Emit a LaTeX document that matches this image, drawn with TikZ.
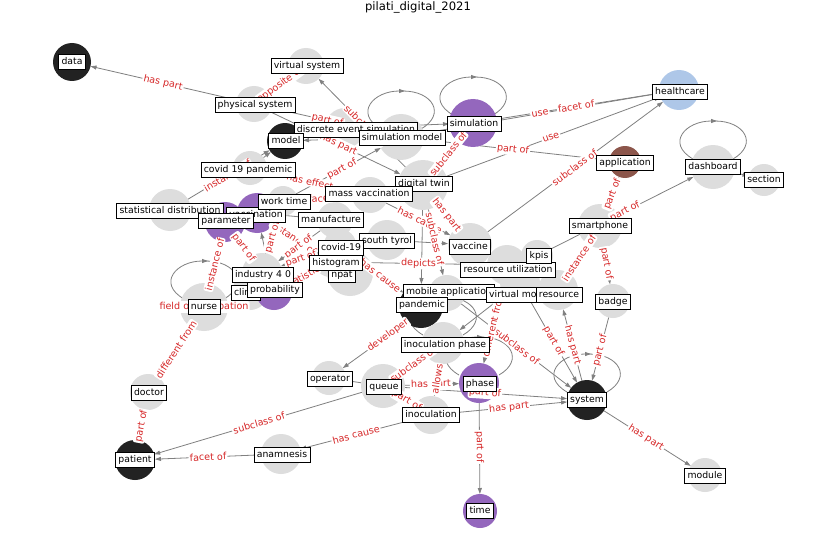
\documentclass[tikz,border=0pt]{standalone}
\usepackage{fontspec}
\setmainfont{DejaVu Sans}
\usetikzlibrary{arrows.meta,calc}
\pgfdeclarelayer{bg}
\pgfdeclarelayer{lines}
\pgfdeclarelayer{elabels}
\pgfdeclarelayer{nlabels}
\pgfsetlayers{bg,lines,main,elabels,nlabels}
\definecolor{ggray}{RGB}{221,221,221}
\definecolor{gblack}{RGB}{34,34,34}
\definecolor{gpurple}{RGB}{148,103,189}
\definecolor{gblue}{RGB}{174,199,232}
\definecolor{gbrown}{RGB}{140,86,75}
\definecolor{eline}{RGB}{128,128,128}
\definecolor{ered}{RGB}{214,39,40}
\tikzset{
  edgeline/.style={draw=eline, line width=0.8pt, -{Triangle[length=6pt,width=4pt]}},
  loopline/.style={draw=eline, line width=0.8pt},
  elab/.style={text=ered, fill=white, inner sep=1.2pt, rounded corners=2pt, font=\fontsize{9.6}{11}\selectfont},
  nlab/.style={draw=black, fill=white, line width=0.7pt, inner xsep=2.8pt, inner ysep=3pt,
     text height=7.3pt, text depth=2.2pt, font=\fontsize{9.3}{11}\selectfont},
  gcirc/.style={circle, inner sep=0pt, outer sep=0pt, draw=none}
}
\newcommand{\gcn}[5]{\node[gcirc, fill=#5, minimum size={2*#4pt}] (c#1) at (#2,-#3) {};}
\newcommand{\gln}[4]{\begin{pgfonlayer}{nlabels}\node[nlab] (l#1) at (#2,-#3) {#4};\end{pgfonlayer}}
\newcommand{\gedge}[3]{%
  \begin{pgfonlayer}{lines}\draw[edgeline] (c#1) -- (c#2);\end{pgfonlayer}%
  \begin{pgfonlayer}{elabels}\path (c#1.center) -- node[elab, sloped] {#3} (c#2.center);\end{pgfonlayer}}
\newcommand{\gedgen}[2]{\begin{pgfonlayer}{lines}\draw[edgeline] (c#1) -- (c#2);\end{pgfonlayer}}
\newcommand{\gloop}[1]{\begin{pgfonlayer}{lines}%
  \draw[loopline, -{Triangle[length=6pt,width=4pt]}] ($(c#1.center)+(-20,8)$) to[out=150,in=180,looseness=1.8] ($(c#1.center)+(4,46)$);
  \draw[loopline] ($(c#1.center)+(2,46)$) to[out=0,in=30,looseness=1.8] ($(c#1.center)+(20,8)$);
  \end{pgfonlayer}}
\begin{document}
\begin{tikzpicture}[x=1pt,y=1pt]
\begin{pgfonlayer}{bg}
\fill[white] (0,0) rectangle (837,-559);
\end{pgfonlayer}
\useasboundingbox (0,0) rectangle (837,-559);
\node[font=\fontsize{11.6}{13}\selectfont] (title) at (418,-7) {pilati\_digital\_2021};
% circles
\gcn{data}{72}{62}{19}{gblack}
\gcn{virtsys}{306}{66}{18}{ggray}
\gcn{physsys}{254}{104}{18}{ggray}
\gcn{health}{679}{90}{20}{gblue}
\gcn{model}{285}{141}{18}{gblack}
\gcn{des}{345}{128}{20}{ggray}
\gcn{simmodel}{401}{137}{23}{ggray}
\gcn{sim}{473}{123}{24}{gpurple}
\gcn{app}{625}{162}{16}{gbrown}
\gcn{dash}{713}{167}{22}{ggray}
\gcn{section}{764}{180}{16}{ggray}
\gcn{covpand}{250}{168}{17}{ggray}
\gcn{dtwin}{423}{185}{25}{ggray}
\gcn{massvac}{370}{195}{18}{ggray}
\gcn{statdist}{170}{210}{21}{ggray}
\gcn{worktime}{283}{201}{15}{ggray}
\gcn{vaccn}{257}{213}{20}{gpurple}
\gcn{param}{225}{222}{20}{gpurple}
\gcn{manuf}{335}{220}{18}{ggray}
\gcn{styrol}{387}{240}{20}{ggray}
\gcn{vaccine}{470}{245}{22}{ggray}
\gcn{kpis}{537}{256}{16}{ggray}
\gcn{phone}{600}{226}{22}{ggray}
\gcn{covid}{340}{245}{16}{ggray}
\gcn{npat}{350}{273}{23}{ggray}
\gcn{histo}{330}{262}{15}{ggray}
\gcn{ind}{262}{273}{20}{ggray}
\gcn{resutil}{507}{265}{20}{ggray}
\gcn{clinic}{250}{292}{18}{ggray}
\gcn{prob}{274}{292}{18}{gpurple}
\gcn{mobapp}{447}{293}{18}{ggray}
\gcn{virtmod}{520}{283}{20}{ggray}
\gcn{resource}{558}{290}{20}{ggray}
\gcn{badge}{613}{301}{17}{ggray}
\gcn{pandemic}{421}{306}{22}{gblack}
\gcn{nurse}{204}{307}{24}{ggray}
\gcn{inocph}{443}{343}{21}{ggray}
\gcn{operator}{329}{378}{17}{ggray}
\gcn{queue}{383}{386}{22}{ggray}
\gcn{phase}{479}{383}{20}{gpurple}
\gcn{system}{587}{400}{20}{gblack}
\gcn{inoc}{431}{415}{19}{ggray}
\gcn{doctor}{148}{392}{18}{ggray}
\gcn{patient}{135}{460}{20}{gblack}
\gcn{anam}{281}{454}{20}{ggray}
\gcn{module}{705}{475}{17}{ggray}
\gcn{time}{480}{511}{17}{gpurple}
% edges
\gedge{physsys}{data}{has part}
\gedge{physsys}{virtsys}{opposite of}
\gedge{dtwin}{virtsys}{subclass of}
\gedge{physsys}{simmodel}{part of}
\gedge{physsys}{dtwin}{has part}
\gedge{worktime}{simmodel}{part of}
\gedge{covpand}{massvac}{has effect}
\gedgen{covpand}{model}
\gedge{statdist}{model}{instance of}
\gedge{worktime}{massvac}{facet of}
\gedge{massvac}{vaccine}{has cause}
\gedge{vaccine}{dtwin}{has part}
\gedge{dtwin}{mobapp}{subclass of}
\gedgen{dtwin}{pandemic}
\gedge{dtwin}{sim}{subclass of}
\gedgen{simmodel}{model}
\gedge{simmodel}{health}{use}
\gedge{sim}{health}{facet of}
\gedge{dtwin}{health}{use}
\gedge{simmodel}{app}{part of}
\gedge{vaccine}{health}{subclass of}
\gedge{phone}{app}{part of}
\gedge{kpis}{dash}{part of}
\gedgen{dash}{section}
\gedge{phone}{resource}{instance of}
\gedge{phone}{badge}{part of}
\gedge{system}{resource}{has part}
\gedge{badge}{system}{part of}
\gedge{virtmod}{system}{part of}
\gedge{mobapp}{system}{subclass of}
\gedge{resutil}{phase}{different from}
\gedge{system}{module}{has part}
\gedge{phase}{time}{part of}
\gedge{inoc}{system}{has part}
\gedge{queue}{system}{part of}
\gedge{queue}{phase}{has part}
\gedge{inocph}{queue}{subclass of}
\gedge{inocph}{inoc}{allows}
\gedge{queue}{inoc}{part of}
\gedge{queue}{patient}{subclass of}
\gedge{anam}{patient}{facet of}
\gedge{inoc}{anam}{has cause}
\gedge{patient}{doctor}{part of}
\gedge{doctor}{nurse}{different from}
\gedge{nurse}{param}{instance of}
\gedge{ind}{param}{part of}
\gedgen{prob}{vaccn}
\gedge{vaccn}{histo}{instance of}
\gedge{worktime}{ind}{part of}
\gedge{manuf}{ind}{part of}
\gedge{covid}{ind}{part of}
\gedge{histo}{prob}{statistic}
\gedge{covid}{pandemic}{has cause}
\gedge{histo}{resutil}{depicts}
\gedgen{styrol}{vaccine}
\gedge{mobapp}{operator}{developer}
\gedgen{queue}{operator}
\gedgen{virtmod}{inocph}
\gedgen{pandemic}{inocph}
\gedgen{des}{sim}
\gedgen{vaccn}{manuf}
% loops
\gloop{simmodel}
\gloop{sim}
\gloop{dash}
\gloop{system}
\gloop{phase}
\gloop{inocph}
\gloop{nurse}
\begin{pgfonlayer}{elabels}
\node[elab] (lnurseloop) at (cnurse.center) {field of occupation};
\end{pgfonlayer}
% labels
\gln{data}{72}{62}{data}
\gln{virtsys}{307}{66}{virtual system}
\gln{physsys}{255}{105}{physical system}
\gln{health}{680}{92}{healthcare}
\gln{des}{356}{130}{discrete event simulation}
\gln{model}{286}{141}{model}
\gln{simmodel}{402}{138}{simulation model}
\gln{sim}{474}{124}{simulation}
\gln{app}{625}{163}{application}
\gln{dash}{713}{167}{dashboard}
\gln{section}{764}{180}{section}
\gln{covpand}{248}{170}{covid 19 pandemic}
\gln{dtwin}{424}{184}{digital twin}
\gln{massvac}{369}{194}{mass vaccination}
\gln{statdist}{170}{211}{statistical distribution}
\gln{vaccn}{256}{215}{vaccination}
\gln{worktime}{284}{202}{work time}
\gln{param}{226}{221}{parameter}
\gln{manuf}{331}{220}{manufacture}
\gln{styrol}{387}{241}{south tyrol}
\gln{vaccine}{470}{247}{vaccine}
\gln{phone}{600}{226}{smartphone}
\gln{covid}{341}{248}{covid-19}
\gln{npat}{342}{275}{npat}
\gln{histo}{336}{263}{histogram}
\gln{ind}{263}{275}{industry 4 0}
\gln{clinic}{246}{293}{clinic}
\gln{prob}{275}{290}{probability}
\gln{resutil}{508}{270}{resource utilization}
\gln{kpis}{539}{256}{kpis}
\gln{mobapp}{449}{292}{mobile application}
\gln{virtmod}{520}{295}{virtual model}
\gln{resource}{559}{295}{resource}
\gln{badge}{613}{302}{badge}
\gln{pandemic}{422}{305}{pandemic}
\gln{nurse}{204}{307}{nurse}
\gln{inocph}{445}{345}{inoculation phase}
\gln{operator}{330}{379}{operator}
\gln{queue}{384}{387}{queue}
\gln{phase}{480}{384}{phase}
\gln{system}{587}{400}{system}
\gln{inoc}{431}{415}{inoculation}
\gln{doctor}{149}{393}{doctor}
\gln{patient}{135}{460}{patient}
\gln{anam}{282}{455}{anamnesis}
\gln{module}{705}{476}{module}
\gln{time}{480}{511}{time}
\end{tikzpicture}
\end{document}
